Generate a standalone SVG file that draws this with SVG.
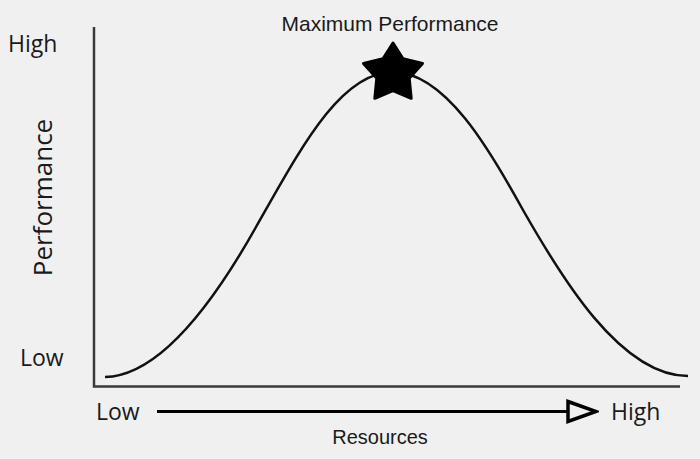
<svg xmlns="http://www.w3.org/2000/svg" width="700" height="459" viewBox="0 0 700 459">
<style>
.lbl{font-family:"Open Sans","Noto Sans",sans-serif;font-size:23px;fill:#1a1a1a}
.arial{font-family:"Liberation Sans",Arial,sans-serif;fill:#1a1a1a}
.axis{stroke:#3a3a3a;stroke-width:2.5;fill:none}
</style>
<defs>
<marker id="openTri" viewBox="0 0 34 26" refX="3" refY="13" markerWidth="34" markerHeight="26" markerUnits="userSpaceOnUse" orient="auto">
<path d="M3,3 L31,13 L3,23 Z" fill="#f0f0f0" stroke="#000" stroke-width="3.5" stroke-linejoin="miter"/>
</marker>
</defs>
<rect width="700" height="459" fill="#f0f0f0"/>
<g id="axes">
<path class="axis" d="M94,27 V386.5 H680"/>
</g>
<g id="curve">
<path d="M105,377 C160,376 215,300 256,227 C300,150 340,72 393,72 C445,72 490,150 523,210 C560,275 620,376 688,376" fill="none" stroke="#111" stroke-width="2.5"/>
</g>
<g id="star">
<polygon points="393,43 403.0,58.8 422.5,63.4 409.2,78.2 411.2,98.3 393,90.5 374.8,98.3 376.8,78.2 363.5,63.4 383.0,58.8" fill="#000" stroke="#000" stroke-width="3" stroke-linejoin="round"/>
</g>
<g id="connectors">
<line x1="157" y1="411.5" x2="568" y2="411.5" stroke="#000" stroke-width="3" marker-end="url(#openTri)"/>
</g>
<g id="labels">
<text class="arial" x="390" y="31" font-size="21" text-anchor="middle">Maximum Performance</text>
<text class="lbl" x="8" y="52">High</text>
<text class="lbl" x="20" y="366">Low</text>
<text class="lbl" x="52" y="197.5" text-anchor="middle" transform="rotate(-90 52 197.5)" style="font-size:26px">Performance</text>
<text class="lbl" x="96" y="420">Low</text>
<text class="lbl" x="611" y="420">High</text>
<text class="arial" x="380" y="444" font-size="20" text-anchor="middle">Resources</text>
</g>
</svg>
